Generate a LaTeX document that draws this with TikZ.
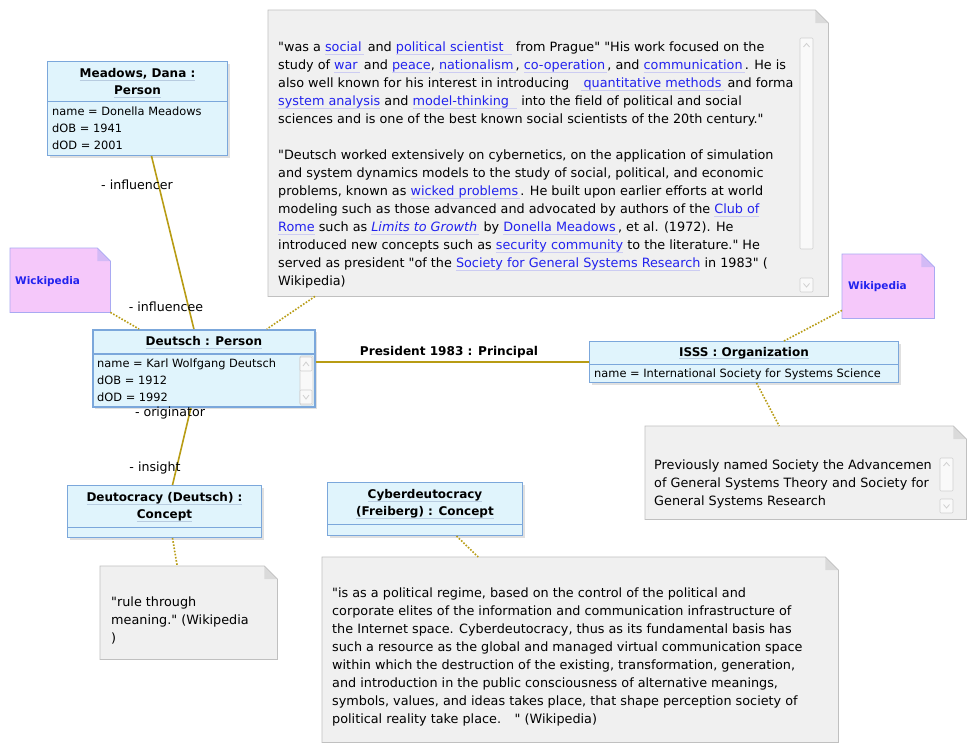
\documentclass[tikz,border=0pt]{standalone}
\usepackage{fontspec}
\setmainfont{DejaVu Sans}[Ligatures=TeXOff]
\usepackage{xcolor}
\usetikzlibrary{positioning, shadows}

\definecolor{objfill}{HTML}{E0F4FC}
\definecolor{objline}{HTML}{7BA7DB}
\definecolor{notefill}{HTML}{F0F0F0}
\definecolor{noteline}{HTML}{C0C0C0}
\definecolor{pinkfill}{HTML}{F5C8FA}
\definecolor{pinkline}{HTML}{A9A9F2}
\definecolor{assoc}{HTML}{B89C14}
\definecolor{linkblue}{HTML}{2222EE}
\definecolor{linkline}{HTML}{CCCCF2}
\definecolor{hdrline}{HTML}{B8CCE0}
\definecolor{scrollline}{HTML}{D0D0D0}

\newcommand{\lnk}[1]{\setbox0\hbox{#1}\rlap{\color{linkline}\rule[-2.5pt]{\wd0}{0.5pt}}{\color{linkblue}\box0}}
\newcommand{\hdr}[1]{\setbox0\hbox{#1}\rlap{\color{hdrline}\rule[-3pt]{\wd0}{0.6pt}}\box0}

\begin{document}
\begin{tikzpicture}[
        x=1pt, y=-1pt,
        objbox/.style = {draw=objline, fill=objfill, line width=1pt, anchor=north west, inner sep=0pt, drop shadow={shadow xshift=2pt, shadow yshift=-2pt, fill=black, opacity=0.12}},
        notebox/.style = {fill=notefill, anchor=north west, inner sep=0pt},
        pinkbox/.style = {fill=pinkfill, anchor=north west, inner sep=0pt},
        hdrtext/.style = {inner sep=0pt, align=center, font=\fontsize{12}{17}\selectfont\bfseries},
        attr/.style = {anchor=north west, inner sep=0pt, align=left, font=\fontsize{11.4}{17}\selectfont},
        notetext/.style = {anchor=north west, inner sep=0pt, align=left, font=\fontsize{12.8}{18}\selectfont},
        role/.style = {inner sep=0pt, font=\fontsize{12.6}{14}\selectfont},
        assocline/.style = {draw=assoc, line width=1.6pt},
        anchorline/.style = {draw=assoc, line width=1.6pt, dash pattern=on 1.6pt off 1.6pt},
        scroll/.style = {draw=scrollline, fill=white!60!notefill, line width=0.6pt, rounded corners=1pt},
        chev/.style = {draw=scrollline, line width=0.8pt}
    ]
        \fill[white] (0,0) rectangle (976,753);
        \useasboundingbox (0,0) rectangle (976,753);

        % Notes (shapes)
        \node [notebox, minimum width=560, minimum height=286] (bignote) at (268,10) {};
        \node [notebox, minimum width=321, minimum height=93] (issnote) at (645,426) {};
        \node [notebox, minimum width=177, minimum height=93] (deutnote) at (100,566) {};
        \node [notebox, minimum width=516, minimum height=185] (cybnote) at (322,557) {};
        \node [pinkbox, minimum width=100, minimum height=64] (wick) at (10,248) {};
        \node [pinkbox, minimum width=92, minimum height=64] (wiki) at (842,254) {};

        \foreach \n/\c/\b in {bignote/notefill/noteline, issnote/notefill/noteline, deutnote/notefill/noteline, cybnote/notefill/noteline, wick/pinkfill/pinkline, wiki/pinkfill/pinkline} {
            \fill[white] ([xshift=-13pt]\n.north east) -- (\n.north east) -- ([yshift=-13pt]\n.north east) -- cycle;
            \fill[\b!45!\c] ([xshift=-13pt]\n.north east) -- ([xshift=-13pt,yshift=-13pt]\n.north east) -- ([yshift=-13pt]\n.north east) -- cycle;
            \draw[\b, line width=0.8pt] (\n.north west) -- ([xshift=-13pt]\n.north east) -- ([yshift=-13pt]\n.north east) -- (\n.south east) -- (\n.south west) -- cycle;
        }

        % Objects
        \node [objbox, minimum width=180, minimum height=94] (meadows) at (47,61) {};
        \node [objbox, minimum width=222, minimum height=77, line width=1.8pt] (deutsch) at (92,329) {};
        \node [objbox, minimum width=309, minimum height=41] (isss) at (589,341) {};
        \node [objbox, minimum width=194, minimum height=52] (deutocracy) at (67,485) {};
        \node [objbox, minimum width=195, minimum height=53] (cyber) at (327,482) {};

        \draw [objline, line width=1pt] ([yshift=-40pt]meadows.north west) -- ([yshift=-40pt]meadows.north east);
        \draw [objline, line width=1.4pt] ([yshift=-25pt]deutsch.north west) -- ([yshift=-25pt]deutsch.north east);
        \draw [objline, line width=1pt] ([yshift=-23pt]isss.north west) -- ([yshift=-23pt]isss.north east);
        \draw [objline, line width=1pt] ([yshift=-42pt]deutocracy.north west) -- ([yshift=-42pt]deutocracy.north east);
        \draw [objline, line width=1pt] ([yshift=-42pt]cyber.north west) -- ([yshift=-42pt]cyber.north east);

        \node [hdrtext] (meadowsH) at ([yshift=-22pt]meadows.north) {\hdr{Meadows, Dana :}\\\hdr{Person}};
        \node [hdrtext] (deutschH) at ([yshift=-13.5pt]deutsch.north) {\hdr{Deutsch : Person}};
        \node [hdrtext] (isssH) at ([yshift=-12pt]isss.north) {\hdr{ISSS : Organization}};
        \node [hdrtext] (deutocracyH) at ([yshift=-22pt]deutocracy.north) {\hdr{Deutocracy (Deutsch) :}\\\hdr{Concept}};
        \node [hdrtext] (cyberH) at ([yshift=-22pt]cyber.north) {\hdr{Cyberdeutocracy}\\\hdr{(Freiberg) : Concept}};

        \node [attr] (meadowsA) at ([xshift=5pt, yshift=-45.5pt]meadows.north west) {name = Donella Meadows\\dOB = 1941\\dOD = 2001};
        \node [attr] (deutschA) at ([xshift=5pt, yshift=-29.5pt]deutsch.north west) {name = Karl Wolfgang Deutsch\\dOB = 1912\\dOD = 1992};
        \node [attr] (isssA) at ([xshift=5pt, yshift=-27.5pt]isss.north west) {name = International Society for Systems Science};

        % scroll bars
        \draw [scroll] (300,356) rectangle (313,405);
        \draw [scroll] (300,357) rectangle (312,371);
        \draw [scroll] (300,390) rectangle (312,404);
        \draw [chev] (303,366) -- (306,362) -- (309,366);
        \draw [chev] (303,395) -- (306,399) -- (309,395);
        \draw [scroll] (800,38) rectangle (813,249);
        \draw [chev] (803.5,47) -- (806.5,43.5) -- (809.5,47);
        \draw [scroll] (800,278) rectangle (813,292);
        \draw [chev] (803.5,283.5) -- (806.5,287) -- (809.5,283.5);
        \draw [scroll] (940,458) rectangle (953,491);
        \draw [chev] (943.5,466) -- (946.5,462.5) -- (949.5,466);
        \draw [scroll] (940,499) rectangle (953,513);
        \draw [chev] (943.5,504.5) -- (946.5,508) -- (949.5,504.5);

        % Note texts
        \node [notetext] (bigtext) at ([xshift=10pt, yshift=-32pt]bignote.north west) {%
            "was a \lnk{social\,} and \lnk{political scientist\ \ } from Prague" "His work focused on the\\
            study of \lnk{war\,} and \lnk{peace}, \lnk{nationalism\,}, \lnk{co-operation\,}, and \lnk{communication\,}. He is\\
            also well known for his interest in introducing \ \ \lnk{\,quantitative methods\,} and forma\\
            \lnk{system analysis} and \lnk{model-thinking\ \ } into the field of political and social\\
            sciences and is one of the best known social scientists of the 20th century."\\[18pt]
            "Deutsch worked extensively on cybernetics, on the application of simulation\\
            and system dynamics models to the study of social, political, and economic\\
            problems, known as \lnk{wicked problems\,}. He built upon earlier efforts at world\\
            modeling such as those advanced and advocated by authors of the \lnk{Club of}\\
            \lnk{Rome} such as \lnk{\itshape Limits to Growth\,} by \lnk{Donella Meadows\,}, et al. (1972). He\\
            introduced new concepts such as \lnk{security community} to the literature." He\\
            served as president "of the \lnk{Society for General Systems Research} in 1983" (\\
            Wikipedia)};
        \node [notetext] (isstext) at ([xshift=9pt, yshift=-34pt]issnote.north west) {Previously named Society the Advancemen\\of General Systems Theory and Society for\\General Systems Research};
        \node [notetext] (deuttext) at ([xshift=11pt, yshift=-31pt]deutnote.north west) {"rule through\\meaning." (Wikipedia\\)};
        \node [notetext] (cybtext) at ([xshift=10pt, yshift=-31pt]cybnote.north west) {%
            "is as a political regime, based on the control of the political and\\
            corporate elites of the information and communication infrastructure of\\
            the Internet space. Cyberdeutocracy, thus as its fundamental basis has\\
            such a resource as the global and managed virtual communication space\\
            within which the destruction of the existing, transformation, generation,\\
            and introduction in the public consciousness of alternative meanings,\\
            symbols, values, and ideas takes place, that shape perception society of\\
            political reality take place. \ \ " (Wikipedia)};
        \node [anchor=west, inner sep=0pt, font=\fontsize{10.5}{12}\selectfont\bfseries, text=linkblue] (wicktext) at ([xshift=5pt, yshift=-34pt]wick.north west) {Wickipedia};
        \node [anchor=west, inner sep=0pt, font=\fontsize{10.5}{12}\selectfont\bfseries, text=linkblue] (wikitext) at ([xshift=6pt, yshift=-33pt]wiki.north west) {Wikipedia};

        % Associations
        \draw [assocline] ([xshift=14pt]meadows.south) -- ([xshift=-10pt]deutsch.north);
        \draw [assocline] (isss.west -| deutsch.east) -- (isss.west);
        \draw [assocline] ([xshift=-13pt]deutsch.south) -- ([xshift=8pt]deutocracy.north);

        \node [role] (influencer) at (137,185) {- influencer};
        \node [role] (influencee) at (166,307) {- influencee};
        \node [role] (originator) at (170,413) {- originator};
        \node [role] (insight) at (155,468) {- insight};
        \node [role, font=\fontsize{12.1}{14}\selectfont\bfseries] (president) at (449,352) {President 1983 : Principal};

        % Note anchors
        \draw [anchorline] ([xshift=47pt]bignote.south west) -- ([xshift=63pt]deutsch.north);
        \draw [anchorline] (wick.south east) -- ([xshift=47pt]deutsch.north west);
        \draw [anchorline] ([yshift=8pt]wiki.south west) -- ([xshift=40pt]isss.north);
        \draw [anchorline] ([xshift=12.5pt]isss.south) -- ([xshift=-26.5pt]issnote.north);
        \draw [anchorline] ([xshift=8pt]deutocracy.south) -- ([xshift=-11.5pt]deutnote.north);
        \draw [anchorline] ([xshift=31.5pt]cyber.south) -- ([xshift=-102pt]cybnote.north);

    \end{tikzpicture}
\end{document}
